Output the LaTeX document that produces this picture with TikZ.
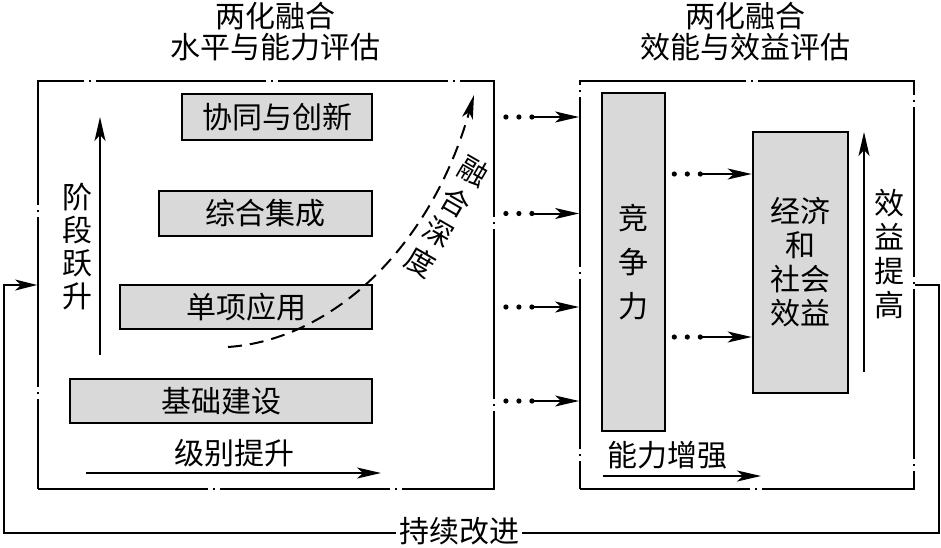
\documentclass[tikz,border=0pt]{standalone}
\usepackage{fontspec}
\setmainfont{Noto Sans CJK SC}
\usetikzlibrary{arrows.meta,calc}
\definecolor{boxgray}{HTML}{D9D9D9}
\begin{document}
\begin{tikzpicture}[x=1pt,y=-1pt,
  every node/.style={font=\fontsize{30}{33}\selectfont, inner sep=0pt},
  frame/.style={draw, line width=1.8pt, dash pattern=on 170pt off 5pt on 2pt off 5pt},
  graybox/.style={draw, fill=boxgray, line width=2.6pt, align=center},
  arr/.style={line width=2pt, -{Stealth[length=24pt,width=11pt,inset=6pt]}},
  dotfill/.style={fill=black}
]
\useasboundingbox (0,0) rectangle (941,547);

% titles
\node[align=center, font=\fontsize{30}{31}\selectfont] (tL) at (275,32) {两化融合\\水平与能力评估};
\node[align=center, font=\fontsize{30}{31}\selectfont] (tR) at (745,32) {两化融合\\效能与效益评估};

% frames
\node[frame, minimum width=456pt, minimum height=408pt] (L) at (266,285) {};
\node[frame, minimum width=334pt, minimum height=408pt] (R) at (747,285) {};

% left boxes
\node[graybox, minimum width=190pt, minimum height=46pt] (b1) at (277,117) {协同与创新};
\node[graybox, minimum width=213pt, minimum height=45pt] (b2) at (265.5,213.5) {综合集成};
\node[graybox, minimum width=252pt, minimum height=44pt] (b3) at (246,307) {单项应用};
\node[graybox, minimum width=302pt, minimum height=44pt] (b4) at (221,401) {基础建设};

% right boxes
\node[graybox, minimum width=63pt, minimum height=338pt, font=\fontsize{30}{44}\selectfont] (C) at (633.5,262) {竞\\争\\力};
\node[graybox, minimum width=95pt, minimum height=261pt, font=\fontsize{30}{34}\selectfont] (E) at (800.5,262.5) {经济\\和\\社会\\效益};

% side labels
\node[align=center] (jd) at (77,247) {阶\\段\\跃\\升};
\coordinate (jdS) at (100,355);
\coordinate (jdE) at (100,117);
\draw[arr] (jdS) -- (jdE);

\node (jb) at (234,453) {级别提升};
\coordinate (jbS) at (86,473);
\coordinate (jbE) at (381,473);
\draw[arr] (jbS) -- (jbE);

\node (nl) at (667,455) {能力增强};
\coordinate (nlS) at (603,476);
\coordinate (nlE) at (761,476);
\draw[arr] (nlS) -- (nlE);

\node[align=center, font=\fontsize{30}{34}\selectfont] (xy) at (889,254) {效\\益\\提\\高};
\coordinate (xyS) at (864,372);
\coordinate (xyE) at (864,132);
\draw[arr] (xyS) -- (xyE);

% fusion depth curve
\coordinate (cs) at (228,347);
\coordinate (ce) at (474,95);
\draw[arr, dash pattern=on 14pt off 8pt] (cs) .. controls (330,340) and (430,250) .. (ce);
\node[align=center, rotate=-30, font=\fontsize{29}{35}\selectfont] (rh) at (447,217) {融\\合\\深\\度};

% dotted arrows left -> right
\foreach \b in {b1,b2,b3,b4}{
  \foreach \k in {11,24,37} \fill ($(L.east |- \b)+(\k,0)$) circle (2.6pt);
  \draw[arr] ($(L.east |- \b)+(37,0)$) -- (R.west |- \b);
}
% dotted arrows inside right
\foreach \yy in {174,337}{
  \coordinate (p) at (0,\yy);
  \foreach \k in {8,21,34} \fill ($(C.east |- p)+(\k,0)$) circle (2.6pt);
  \draw[arr] ($(C.east |- p)+(34,0)$) -- (E.west |- p);
}

% feedback loop
\coordinate (fbR) at (939,533);
\coordinate (fbL) at (4,533);
\draw[line width=2pt, -{Stealth[length=22pt,width=11pt,inset=6pt]}] (R.east) -| (fbR) -- (fbL) |- (L.west);
\node[fill=white, inner xsep=3pt, inner ysep=1pt] (fb) at (459,531) {持续改进};
\end{tikzpicture}
\end{document}
